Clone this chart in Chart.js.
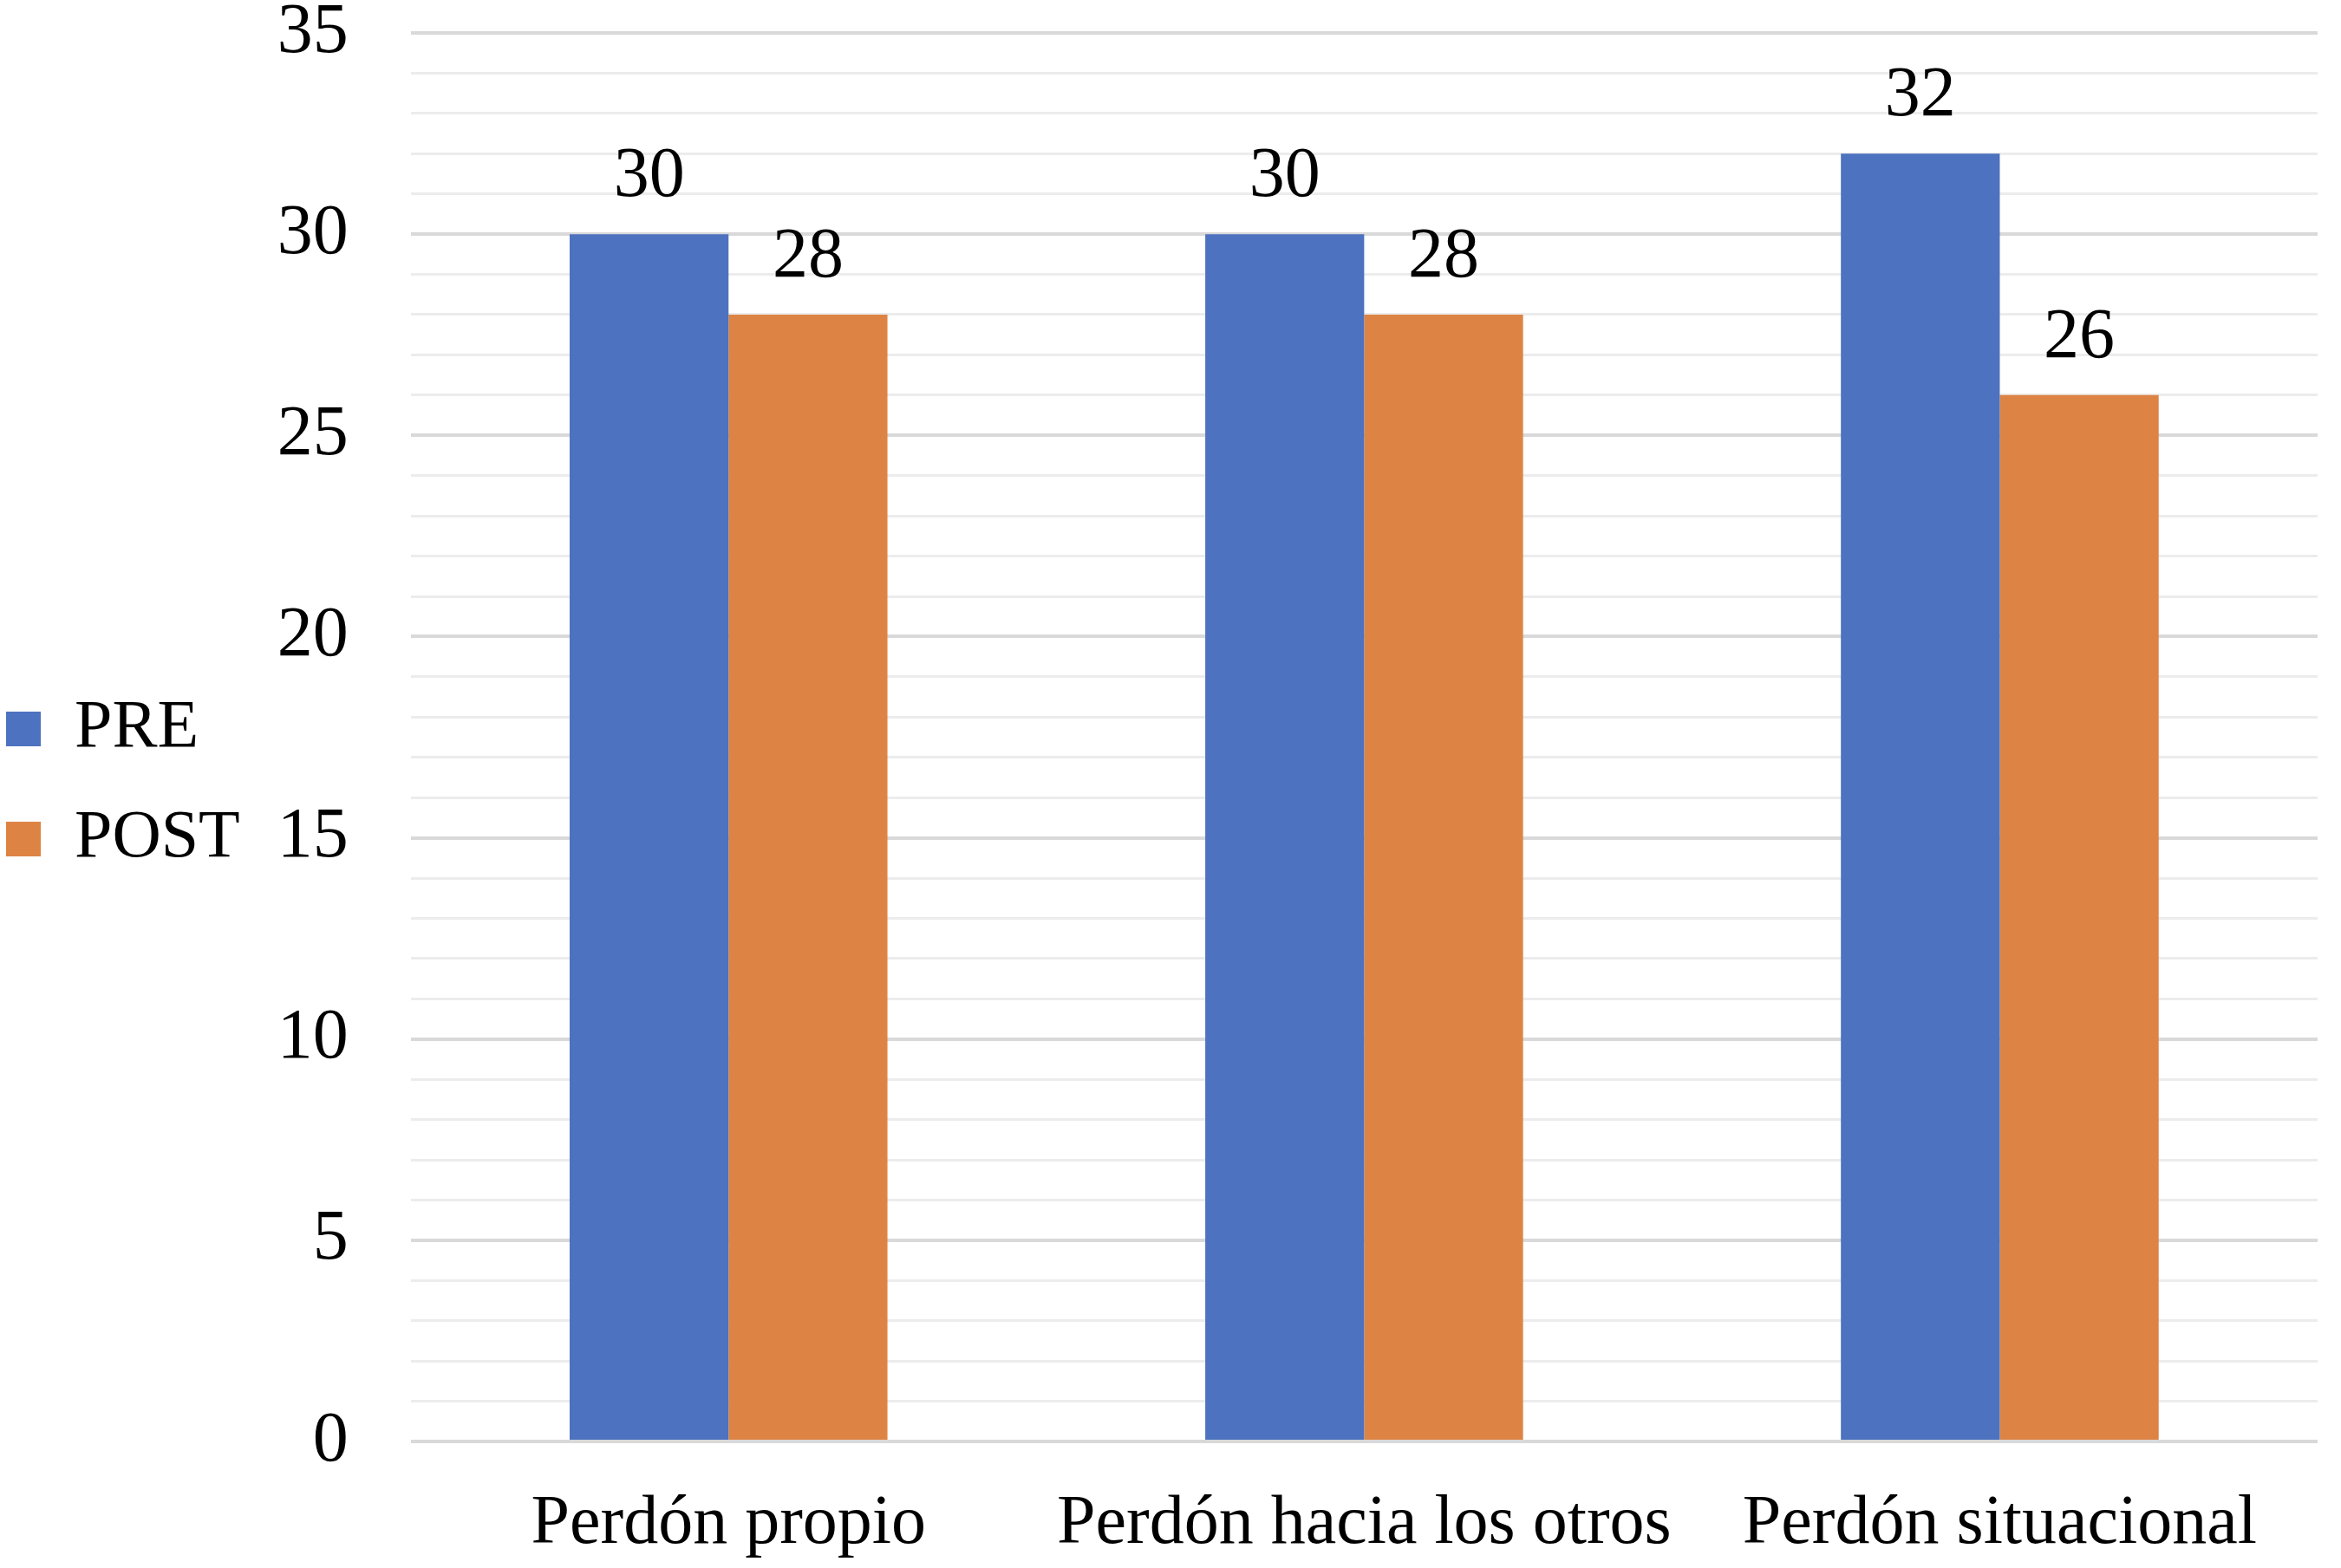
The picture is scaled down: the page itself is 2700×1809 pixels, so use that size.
<!DOCTYPE html>
<html>
<head>
<meta charset="utf-8">
<script src="https://cdn.jsdelivr.net/npm/chart.js@4"></script>
<style>
  html, body { margin: 0; padding: 0; background: #fff; }
  canvas { display: block; }
</style>
</head>
<body>
<canvas id="barChart" width="2700" height="1809"></canvas>
<script>
const categories = ["Perdón propio", "Perdón hacia los otros", "Perdón situacional"];
const preValues = [30, 30, 32];
const postValues = [28, 28, 26];
const yMin = 0;
const yMax = 35;
const yStep = 1;
const labelEvery = 5;

const FONT = "'Liberation Serif', 'Times New Roman', serif";

// value labels above each bar
const barValueLabels = {
  id: "barValueLabels",
  afterDatasetsDraw(chart) {
    const ctx = chart.ctx;
    ctx.save();
    ctx.font = "82px " + FONT;
    ctx.fillStyle = "#000";
    ctx.textAlign = "center";
    ctx.textBaseline = "alphabetic";
    chart.data.datasets.forEach((ds, i) => {
      chart.getDatasetMeta(i).data.forEach((bar, j) => {
        ctx.fillText(String(ds.data[j]), bar.x, bar.y - 44);
      });
    });
    ctx.restore();
  },
};

const barCtx = document.getElementById("barChart").getContext("2d");
new Chart(barCtx, {
  type: "bar",
  data: {
    labels: categories,
    datasets: [
      {
        label: "PRE",
        data: preValues,
        backgroundColor: "#4d72bf",
        categoryPercentage: 0.5,
        barPercentage: 1.0,
      },
      {
        label: "POST",
        data: postValues,
        backgroundColor: "#dd8445",
        categoryPercentage: 0.5,
        barPercentage: 1.0,
      },
    ],
  },
  options: {
    responsive: false,
    devicePixelRatio: 1,
    animation: false,
    layout: {
      padding: { top: 0, right: 27, bottom: 0, left: -42 },
    },
    plugins: {
      legend: {
        position: "left",
        labels: {
          font: { family: FONT, size: 78 },
          color: "#000",
          boxWidth: 40,
          boxHeight: 40,
          padding: 49,
        },
      },
      tooltip: { enabled: false },
    },
    scales: {
      x: {
        grid: { display: false },
        border: { display: false },
        ticks: {
          font: { family: FONT, size: 80 },
          color: "#000",
          padding: 40,
          maxRotation: 0,
        },
        afterFit: (scale) => {
          scale.height = 146;
        },
      },
      y: {
        min: yMin,
        max: yMax,
        border: { display: false },
        grid: {
          drawTicks: false,
          color: (c) => (c.tick && c.tick.value % labelEvery === 0 ? "#d9d9d9" : "#ececec"),
          lineWidth: (c) => (c.tick && c.tick.value % labelEvery === 0 ? 4 : 3),
        },
        ticks: {
          stepSize: yStep,
          autoSkip: false,
          font: { family: FONT, size: 82 },
          color: "#000",
          padding: 72,
          callback: (v) => (v % labelEvery === 0 ? v : ""),
        },
        afterFit: (scale) => {
          scale.width = 187;
          scale.paddingTop = 38;
          scale.paddingBottom = 0;
        },
      },
    },
  },
  plugins: [barValueLabels],
});
</script>
</body>
</html>
